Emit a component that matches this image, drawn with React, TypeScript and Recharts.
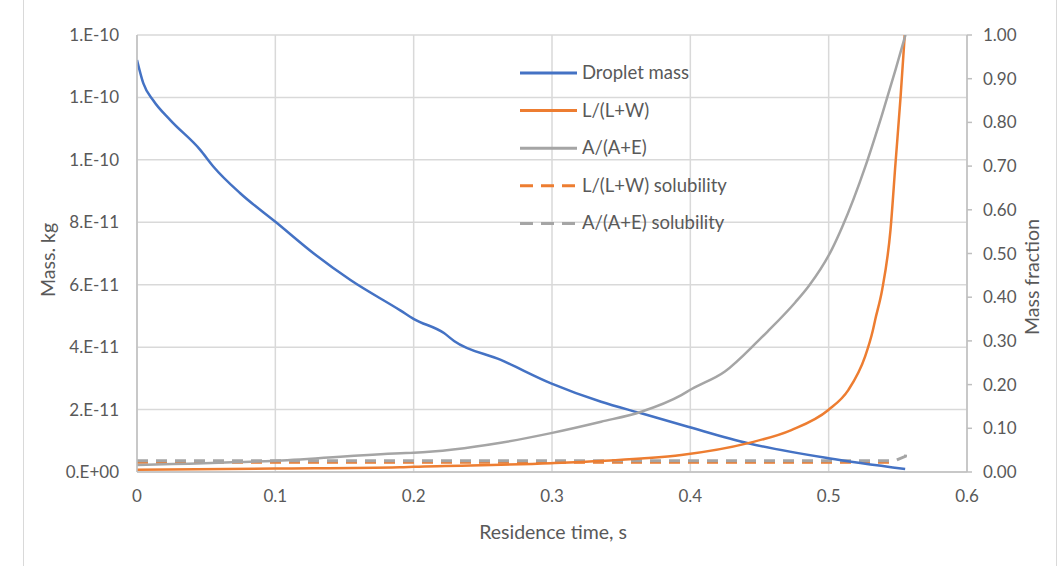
import React from 'react';
import { LineChart, Line, XAxis, YAxis, CartesianGrid } from 'recharts';

// ---- data ----
const dropletT = [0, 0.0046, 0.0118, 0.0239, 0.0457, 0.0553, 0.0746, 0.1005, 0.1278, 0.1543, 0.1906, 0.2002, 0.2219, 0.2292, 0.263, 0.2993, 0.3355, 0.3645, 0.3983, 0.4418, 0.4998, 0.5553];
const dropletMass = [1.32e-10, 1.245e-10, 1.19e-10, 1.128e-10, 1.032e-10, 9.78e-11, 8.93e-11, 8.0e-11, 7.0e-11, 6.15e-11, 5.17e-11, 4.9e-11, 4.45e-11, 4.2e-11, 3.59e-11, 2.84e-11, 2.25e-11, 1.88e-11, 1.45e-11, 9.2e-12, 4.4e-12, 9.6e-13];

const lwT = [0, 0.1, 0.19, 0.2, 0.2993, 0.3645, 0.3935, 0.4418, 0.473, 0.4998, 0.5143, 0.5263, 0.532, 0.5336, 0.5386, 0.5447, 0.5483, 0.552, 0.555];
const lwFrac = [0.005, 0.008, 0.011, 0.012, 0.02, 0.031, 0.039, 0.066, 0.096, 0.142, 0.188, 0.264, 0.325, 0.348, 0.416, 0.554, 0.706, 0.859, 1.0];

const aeT = [0, 0.101, 0.1906, 0.2, 0.263, 0.2993, 0.3355, 0.3645, 0.3935, 0.401, 0.425, 0.449, 0.456, 0.4758, 0.4855, 0.5024, 0.5097, 0.5266, 0.5386, 0.5483, 0.5555];
const aeFrac = [0.016, 0.026, 0.043, 0.044, 0.067, 0.089, 0.115, 0.138, 0.176, 0.19, 0.23, 0.3, 0.322, 0.388, 0.425, 0.51, 0.56, 0.7, 0.818, 0.92, 1.0];

const lwSolT = [0, 0.548];
const lwSol = [0.0225, 0.0225];

const aeSolT = [0, 0.548, 0.5555, 0.556];
const aeSol = [0.026, 0.026, 0.036, 0.058];

const xTicks = [0, 0.1, 0.2, 0.3, 0.4, 0.5, 0.6];
const xTickLabels = ['0', '0.1', '0.2', '0.3', '0.4', '0.5', '0.6'];
const leftTicks = [0, 2e-11, 4e-11, 6e-11, 8e-11, 1e-10, 1.2e-10, 1.4e-10];
const leftTickLabels = ['0.E+00', '2.E-11', '4.E-11', '6.E-11', '8.E-11', '1.E-10', '1.E-10', '1.E-10'];
const rightTicks = [0, 0.1, 0.2, 0.3, 0.4, 0.5, 0.6, 0.7, 0.8, 0.9, 1.0];
const rightTickLabels = ['0.00', '0.10', '0.20', '0.30', '0.40', '0.50', '0.60', '0.70', '0.80', '0.90', '1.00'];

const zip = (t: number[], v: number[]) => t.map((x, i) => ({ t: x, v: v[i] }));

const series = [
  { name: 'Droplet mass', color: '#4472C4', dashed: false, axis: 'left', data: zip(dropletT, dropletMass) },
  { name: 'L/(L+W)', color: '#ED7D31', dashed: false, axis: 'right', data: zip(lwT, lwFrac) },
  { name: 'A/(A+E)', color: '#A5A5A5', dashed: false, axis: 'right', data: zip(aeT, aeFrac) },
  { name: 'L/(L+W) solubility', color: '#ED7D31', dashed: true, axis: 'right', data: zip(lwSolT, lwSol) },
  { name: 'A/(A+E) solubility', color: '#A5A5A5', dashed: true, axis: 'right', data: zip(aeSolT, aeSol) },
];

const FONT = 'Lato, "Liberation Sans", sans-serif';
const TEXT = '#595959';
const tickStyle = { fill: TEXT, fontSize: 17, fontFamily: FONT };

export default function App() {
  const drawOrder = [3, 4, 0, 1, 2];
  return (
    <div style={{ position: 'absolute', left: 0, top: 0, width: 1061, height: 566, background: '#fff', overflow: 'hidden' }}>
      <div style={{ position: 'absolute', left: 23, top: -2, width: 1034, height: 580, borderLeft: '1.5px solid #d9d9d9', borderRight: '1.5px solid #d9d9d9', boxSizing: 'border-box' }} />
      <LineChart width={1061} height={566} margin={{ top: 35, right: 34, bottom: 64, left: 42 }}>
        <CartesianGrid stroke="#d9d9d9" strokeWidth={1.5} yAxisId="left" horizontal vertical />
        <XAxis
          type="number"
          dataKey="t"
          domain={[0, 0.6]}
          ticks={xTicks}
          allowDataOverflow
          tickFormatter={(v: number) => xTickLabels[xTicks.indexOf(v)] ?? String(v)}
          tick={tickStyle}
          tickLine={false}
          tickSize={6}
          tickMargin={12}
          height={30}
          axisLine={{ stroke: '#bfbfbf', strokeWidth: 1.5 }}
          interval={0}
        />
        <YAxis
          yAxisId="left"
          type="number"
          domain={[0, 1.4e-10]}
          ticks={leftTicks}
          allowDataOverflow
          tickFormatter={(v: number) => leftTickLabels[leftTicks.indexOf(v)] ?? ''}
          tick={tickStyle}
          tickLine={false}
          tickSize={6}
          tickMargin={12}
          width={95}
          axisLine={{ stroke: '#bfbfbf', strokeWidth: 1.5 }}
          interval={0}
        />
        <YAxis
          yAxisId="right"
          orientation="right"
          type="number"
          domain={[0, 1]}
          ticks={rightTicks}
          allowDataOverflow
          tickFormatter={(v: number) => rightTickLabels[rightTicks.indexOf(v)] ?? ''}
          tick={tickStyle}
          tickLine={{ stroke: '#bfbfbf', strokeWidth: 1.5 }}
          tickSize={5}
          tickMargin={11}
          width={60}
          axisLine={{ stroke: '#bfbfbf', strokeWidth: 1.5 }}
          interval={0}
        />
        {drawOrder.map((i) => {
          const s = series[i];
          return (
            <Line
              key={s.name}
              yAxisId={s.axis}
              data={s.data}
              dataKey="v"
              type={s.dashed ? 'linear' : 'monotone'}
              stroke={s.color}
              strokeWidth={s.dashed ? 3 : 2.5}
              strokeDasharray={s.dashed ? '11 8' : undefined}
              dot={false}
              activeDot={false}
              isAnimationActive={false}
              name={s.name}
            />
          );
        })}
      </LineChart>
      {/* legend */}
      <svg style={{ position: 'absolute', left: 515, top: 55, overflow: 'visible' }} width={240} height={190}>
        {series.map((s, i) => {
          const y = 18 + i * 37.6;
          return (
            <g key={s.name}>
              <line x1={5} x2={62} y1={y} y2={y} stroke={s.color} strokeWidth={3} strokeDasharray={s.dashed ? '13 8' : undefined} />
              <text x={67} y={y + 6} fill={TEXT} fontSize={18.5} fontFamily={FONT}>{s.name}</text>
            </g>
          );
        })}
      </svg>
      {/* axis titles */}
      <svg style={{ position: 'absolute', left: 0, top: 0 }} width={1061} height={566}>
        <text x={0} y={0} transform="translate(55,260) rotate(-90)" textAnchor="middle" fill={TEXT} fontSize={19.5} fontFamily={FONT}>Mass. kg</text>
        <text x={0} y={0} transform="translate(1039,277) rotate(-90)" textAnchor="middle" fill={TEXT} fontSize={19.5} fontFamily={FONT}>Mass fraction</text>
        <text x={553} y={539} textAnchor="middle" fill={TEXT} fontSize={19.5} fontFamily={FONT}>Residence time, s</text>
      </svg>
    </div>
  );
}
